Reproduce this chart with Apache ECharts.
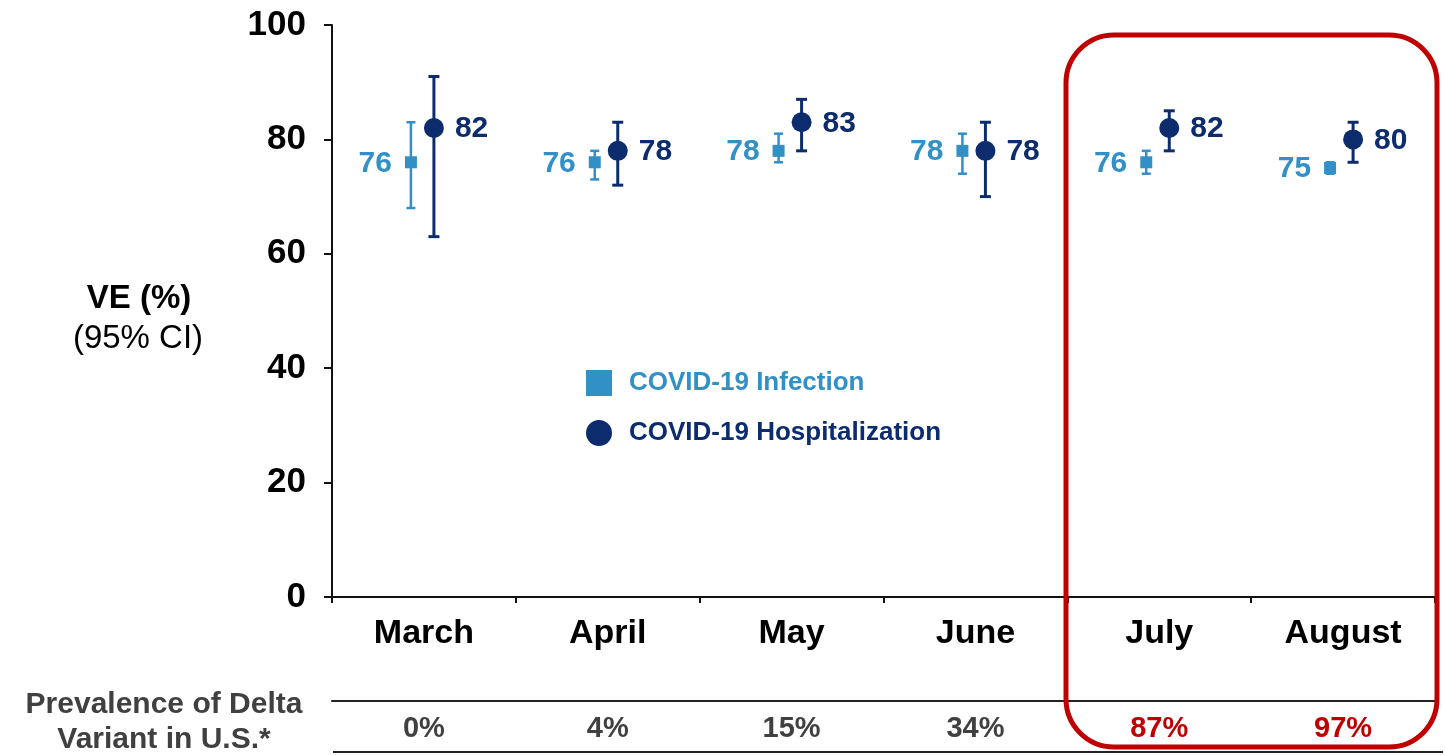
<!DOCTYPE html>
<html>
<head>
<meta charset="utf-8">
<title>VE by month</title>
<script src="https://cdn.jsdelivr.net/npm/echarts@6/dist/echarts.min.js"></script>
<style>
  html, body { margin: 0; padding: 0; background: #fff; }
  #chart { width: 1445px; height: 755px; }
</style>
</head>
<body>
<div id="chart"></div>
<script>
// months on the x axis
const months = ['March', 'April', 'May', 'June', 'July', 'August']

// COVID-19 infection VE (%) with 95% CI
const infectionVE = [76, 76, 78, 78, 76, 75]
const infectionLow = [68, 73, 76, 74, 74, 74]
const infectionHigh = [83, 78, 81, 81, 78, 76]

// COVID-19 hospitalization VE (%) with 95% CI
const hospVE = [82, 78, 83, 78, 82, 80]
const hospLow = [63, 72, 78, 70, 78, 76]
const hospHigh = [91, 83, 87, 83, 85, 83]

// prevalence of Delta row under the chart
const deltaPrevalence = ['0%', '4%', '15%', '34%', '87%', '97%']
const highlighted = ['July', 'August']

// y axis range
const yMin = 0
const yMax = 100
const yStep = 20

const FONT = '"Liberation Sans", Arial, sans-serif'
const INF_COLOR = '#3190C6'
const HOSP_COLOR = '#0C2C6E'
const RED = '#C00000'
const GREY = '#404040'

const chart = echarts.init(document.getElementById('chart'))

// 误差棒 + 标记 + 数值标签
const errorBarItem = (o) => (params, api) => {
  const i = api.value(0)
  const p = api.coord([i, api.value(1)])
  const lo = api.coord([i, api.value(2)])
  const hi = api.coord([i, api.value(3)])
  const x = p[0] + o.dx
  const half = o.cap / 2
  const ls = { stroke: o.color, lineWidth: o.lw }
  const marker = o.shape === 'rect'
    ? { type: 'rect', shape: { x: x - o.size / 2, y: p[1] - o.size / 2, width: o.size, height: o.size }, style: { fill: o.color } }
    : { type: 'circle', shape: { cx: x, cy: p[1], r: o.size / 2 }, style: { fill: o.color } }
  return {
    type: 'group',
    children: [
      { type: 'line', shape: { x1: x, y1: hi[1], x2: x, y2: lo[1] }, style: ls },
      { type: 'line', shape: { x1: x - half, y1: hi[1], x2: x + half, y2: hi[1] }, style: ls },
      { type: 'line', shape: { x1: x - half, y1: lo[1], x2: x + half, y2: lo[1] }, style: ls },
      marker,
      {
        type: 'text',
        x: x + o.labelDx,
        y: p[1] + 1,
        style: {
          text: String(api.value(1)),
          align: o.labelAlign,
          verticalAlign: 'middle',
          fill: o.color,
          fontSize: 30,
          fontWeight: 'bold',
          fontFamily: FONT
        }
      }
    ]
  }
}

const option = {
  animation: false,
  backgroundColor: '#fff',
  grid: { left: 332, right: 10, top: 25, bottom: 158 },
  legend: {
    orient: 'vertical',
    left: 581,
    top: 365,
    itemWidth: 26,
    itemHeight: 26,
    itemGap: 24,
    selectedMode: false,
    textStyle: { fontSize: 26, fontWeight: 'bold', fontFamily: FONT, padding: [0, 0, 0, 12] },
    data: [
      { name: 'COVID-19 Infection', icon: 'rect', textStyle: { color: INF_COLOR } },
      { name: 'COVID-19 Hospitalization', icon: 'circle', textStyle: { color: HOSP_COLOR } }
    ]
  },
  xAxis: [
    {
      type: 'category',
      data: months,
      axisLine: { lineStyle: { color: '#111', width: 2 } },
      axisTick: { show: true, length: 6, lineStyle: { color: '#111', width: 2 } },
      axisLabel: { color: '#000', fontSize: 34, fontWeight: 'bold', fontFamily: FONT, margin: 20 }
    },
    {
      type: 'category',
      data: deltaPrevalence,
      position: 'bottom',
      offset: 104,
      axisLine: { lineStyle: { color: '#222', width: 2 } },
      axisTick: { show: false },
      axisLabel: {
        fontSize: 29,
        fontWeight: 'bold',
        fontFamily: FONT,
        margin: 13,
        color: (value, index) => highlighted.includes(months[index]) ? RED : GREY
      }
    }
  ],
  yAxis: {
    type: 'value',
    min: yMin,
    max: yMax,
    interval: yStep,
    splitLine: { show: false },
    axisLine: { show: true, lineStyle: { color: '#111', width: 2 } },
    axisTick: { show: true, length: 8, lineStyle: { color: '#111', width: 2 } },
    axisLabel: { color: '#000', fontSize: 35, fontWeight: 'bold', fontFamily: FONT, margin: 26 }
  },
  series: [
    {
      name: 'COVID-19 Infection',
      type: 'custom',
      itemStyle: { color: INF_COLOR },
      encode: { x: 0, y: 1 },
      data: months.map((m, i) => [i, infectionVE[i], infectionLow[i], infectionHigh[i]]),
      renderItem: errorBarItem({ dx: -13, shape: 'rect', size: 12, color: INF_COLOR, lw: 2.5, cap: 9, labelDx: -19, labelAlign: 'right' })
    },
    {
      name: 'COVID-19 Hospitalization',
      type: 'custom',
      itemStyle: { color: HOSP_COLOR },
      encode: { x: 0, y: 1 },
      data: months.map((m, i) => [i, hospVE[i], hospLow[i], hospHigh[i]]),
      renderItem: errorBarItem({ dx: 10, shape: 'circle', size: 20, color: HOSP_COLOR, lw: 3, cap: 11, labelDx: 21, labelAlign: 'left' })
    }
  ],
  graphic: [
    {
      type: 'text',
      x: 139, y: 299,
      style: { text: 'VE (%)', align: 'center', verticalAlign: 'middle', fill: '#000', fontSize: 33, fontWeight: 'bold', fontFamily: FONT }
    },
    {
      type: 'text',
      x: 138, y: 339,
      style: { text: '(95% CI)', align: 'center', verticalAlign: 'middle', fill: '#000', fontSize: 33, fontFamily: FONT }
    },
    {
      type: 'text',
      x: 164, y: 722,
      style: {
        text: 'Prevalence of Delta\nVariant in U.S.*',
        align: 'center',
        verticalAlign: 'middle',
        fill: GREY,
        fontSize: 30,
        fontWeight: 'bold',
        fontFamily: FONT,
        lineHeight: 35
      }
    },
    {
      type: 'line',
      shape: { x1: 333, y1: 752, x2: 1443, y2: 752 },
      style: { stroke: '#222', lineWidth: 2 }
    },
    {
      type: 'rect',
      shape: { x: 1066, y: 35, width: 371, height: 712, r: 48 },
      style: { fill: 'none', stroke: RED, lineWidth: 5 },
      z: 10
    }
  ]
}

chart.setOption(option)

window.addEventListener('resize', () => chart.resize())
</script>
</body>
</html>
